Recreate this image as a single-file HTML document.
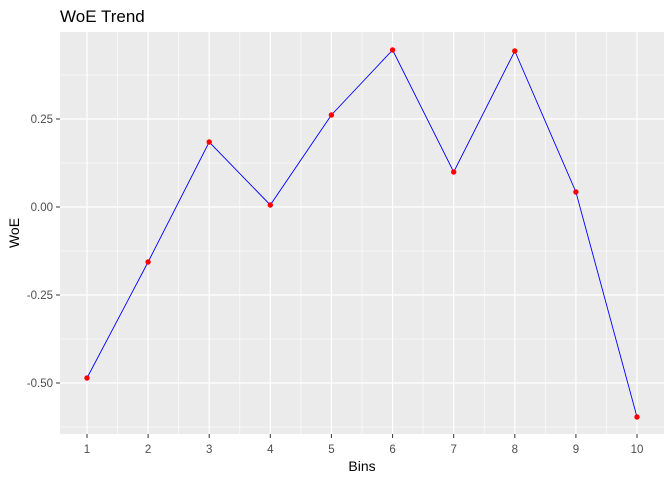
<!DOCTYPE html>
<html><head><meta charset="utf-8"><style>body{margin:0;background:#fff}svg{display:block}</style></head>
<body>
<svg width="672" height="480" xmlns="http://www.w3.org/2000/svg" font-family="Liberation Sans, sans-serif">
<rect x="0" y="0" width="672" height="480" fill="#fff"/>
<rect x="60" y="32" width="604" height="402" fill="#ebebeb"/>
<g stroke="#fff" stroke-width="0.6">
<line x1="60" x2="664" y1="75" y2="75"/><line x1="60" x2="664" y1="163" y2="163"/><line x1="60" x2="664" y1="251" y2="251"/><line x1="60" x2="664" y1="339" y2="339"/><line x1="60" x2="664" y1="427" y2="427"/>
<line y1="32" y2="434" x1="117.6" x2="117.6"/><line y1="32" y2="434" x1="178.7" x2="178.7"/><line y1="32" y2="434" x1="239.8" x2="239.8"/><line y1="32" y2="434" x1="300.9" x2="300.9"/><line y1="32" y2="434" x1="362" x2="362"/><line y1="32" y2="434" x1="423.1" x2="423.1"/><line y1="32" y2="434" x1="484.2" x2="484.2"/><line y1="32" y2="434" x1="545.3" x2="545.3"/><line y1="32" y2="434" x1="606.4" x2="606.4"/>
</g>
<g stroke="#fff" stroke-width="1.2">
<line x1="60" x2="664" y1="119" y2="119"/><line x1="60" x2="664" y1="207" y2="207"/><line x1="60" x2="664" y1="295" y2="295"/><line x1="60" x2="664" y1="383" y2="383"/>
<line y1="32" y2="434" x1="87" x2="87"/><line y1="32" y2="434" x1="148.1" x2="148.1"/><line y1="32" y2="434" x1="209.2" x2="209.2"/><line y1="32" y2="434" x1="270.3" x2="270.3"/><line y1="32" y2="434" x1="331.4" x2="331.4"/><line y1="32" y2="434" x1="392.6" x2="392.6"/><line y1="32" y2="434" x1="453.7" x2="453.7"/><line y1="32" y2="434" x1="514.8" x2="514.8"/><line y1="32" y2="434" x1="575.9" x2="575.9"/><line y1="32" y2="434" x1="637" x2="637"/>
</g>
<polyline fill="none" stroke="#0000ff" stroke-width="0.9" points="87,378 148.1,262 209.2,142 270.3,205 331.4,115 392.6,50 453.7,172 514.8,51 575.9,192 637,417"/>
<g fill="#ff0000">
<circle cx="87" cy="378" r="2.7"/><circle cx="148.1" cy="262" r="2.7"/><circle cx="209.2" cy="142" r="2.7"/><circle cx="270.3" cy="205" r="2.7"/><circle cx="331.4" cy="115" r="2.7"/><circle cx="392.6" cy="50" r="2.7"/><circle cx="453.7" cy="172" r="2.7"/><circle cx="514.8" cy="51" r="2.7"/><circle cx="575.9" cy="192" r="2.7"/><circle cx="637" cy="417" r="2.7"/>
</g>
<g stroke="#333" stroke-width="1">
<line x1="56" x2="60" y1="119" y2="119"/><line x1="56" x2="60" y1="207" y2="207"/><line x1="56" x2="60" y1="295" y2="295"/><line x1="56" x2="60" y1="383" y2="383"/>
<line y1="434" y2="438" x1="87" x2="87"/><line y1="434" y2="438" x1="148.1" x2="148.1"/><line y1="434" y2="438" x1="209.2" x2="209.2"/><line y1="434" y2="438" x1="270.3" x2="270.3"/><line y1="434" y2="438" x1="331.4" x2="331.4"/><line y1="434" y2="438" x1="392.6" x2="392.6"/><line y1="434" y2="438" x1="453.7" x2="453.7"/><line y1="434" y2="438" x1="514.8" x2="514.8"/><line y1="434" y2="438" x1="575.9" x2="575.9"/><line y1="434" y2="438" x1="637" x2="637"/>
</g>
<g fill="#4d4d4d" font-size="11.5" text-anchor="end">
<text x="53" y="123">0.25</text><text x="53" y="211">0.00</text><text x="53" y="299">-0.25</text><text x="53" y="387">-0.50</text>
</g>
<g fill="#4d4d4d" font-size="11.5" text-anchor="middle">
<text x="87" y="453">1</text><text x="148.1" y="453">2</text><text x="209.2" y="453">3</text><text x="270.3" y="453">4</text><text x="331.4" y="453">5</text><text x="392.6" y="453">6</text><text x="453.7" y="453">7</text><text x="514.8" y="453">8</text><text x="575.9" y="453">9</text><text x="637" y="453">10</text>
</g>
<text x="362" y="471" font-size="14" text-anchor="middle" fill="#000">Bins</text>
<text transform="translate(19,233) rotate(-90)" font-size="14" text-anchor="middle" fill="#000">WoE</text>
<text x="60" y="22" font-size="17" fill="#000">WoE Trend</text>
</svg>
</body></html>
